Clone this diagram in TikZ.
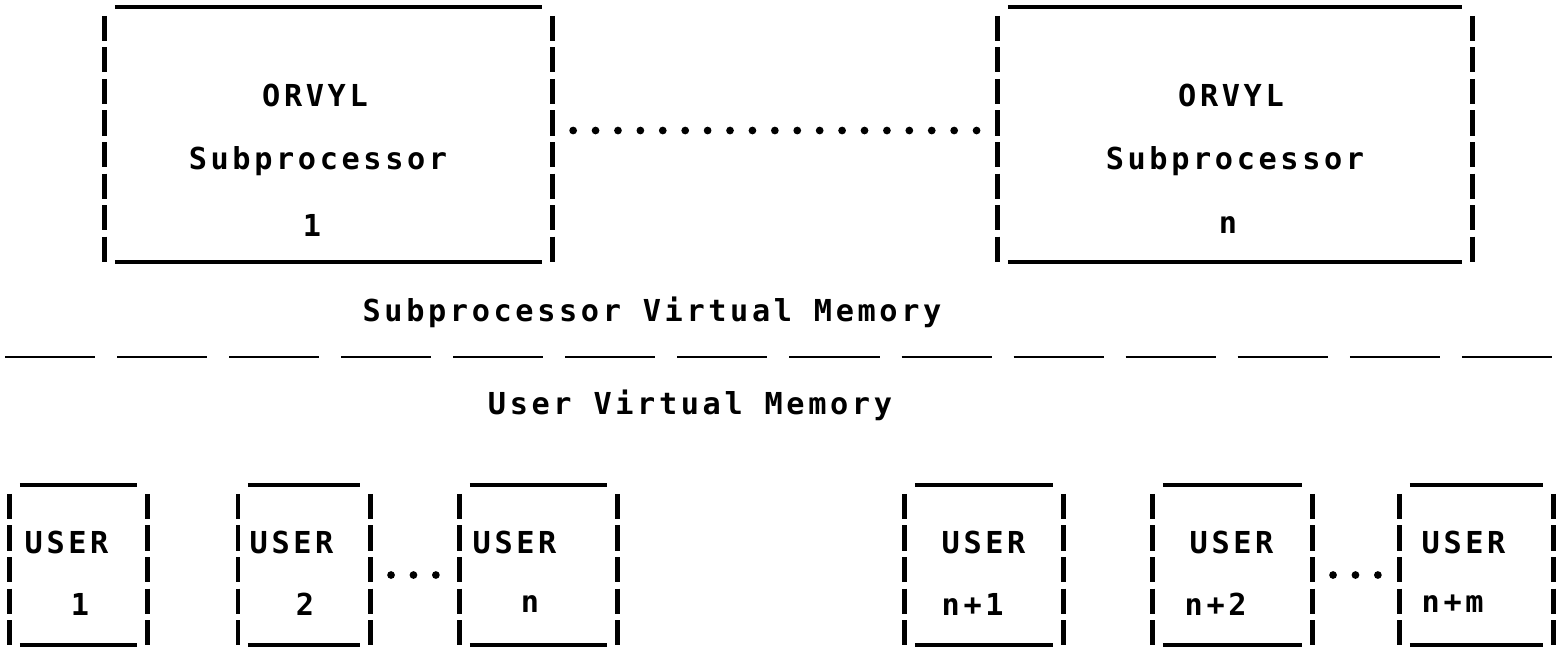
\documentclass[tikz,border=0pt]{standalone}
\usepackage{fontspec}
\usepackage{tikz}
\usetikzlibrary{positioning, calc}
\newfontfamily\lpfont[LetterSpace=12]{DejaVu Sans Mono}
\newcommand{\lpframe}[1]{%
  \draw[edge] ($(#1.north west)+(10,0)$) -- ($(#1.north east)+(-10,0)$);
  \draw[edge] ($(#1.south west)+(10,0)$) -- ($(#1.south east)+(-10,0)$);
  \draw[bar] ($(#1.north west)+(0,9)$) -- ($(#1.south west)+(0,2)$);
  \draw[bar] ($(#1.north east)+(0,9)$) -- ($(#1.south east)+(0,2)$);
}

\begin{document}
\begin{tikzpicture}[x=0.01cm, y=-0.01cm,
    frame/.style={inner sep=0pt, outer sep=0pt},
    edge/.style={line width=1pt},
    bar/.style={line width=1.4pt, dash pattern=on 2.5mm off 0.65mm},
    dotline/.style={line width=2.2pt, line cap=round, dash pattern=on 0pt off 2.24mm,
        shorten <=0.21cm, shorten >=0.21cm},
    divider/.style={line width=0.8pt, dash pattern=on 9mm off 2.2mm},
    txt/.style={font=\lpfont\bfseries\fontsize{8.6}{10}\selectfont, inner sep=0pt}]
    \useasboundingbox (0,0) rectangle (1556,647);

    % Subprocessor boxes
    \node[frame, minimum width=4.47cm, minimum height=2.55cm] (sp1) at (328.5,134.5) {};
    \node[frame, minimum width=4.74cm, minimum height=2.55cm] (sp2) at (1235,134.5) {};
    \lpframe{sp1}
    \lpframe{sp2}

    \node[txt] (sp1name) at (315,95) {ORVYL};
    \node[txt] (sp1kind) at (318,161) {Subprocessor};
    \node[txt] (sp1num) at (312,225) {1};
    \node[txt] (sp2name) at (1231,95) {ORVYL};
    \node[txt] (sp2kind) at (1235,161) {Subprocessor};
    \node[txt] (sp2num) at (1228,225) {n};

    \draw[dotline] ($(sp1.east)+(0,-4)$) -- ($(sp2.west)+(0,-4)$);

    % Memory split
    \node[txt] (spmem) at (652,312) {Subprocessor Virtual Memory};
    \draw[divider] (5,357) -- (1556,357);
    \node[txt] (usermem) at (690,405) {User Virtual Memory};

    % User boxes
    \node[frame, minimum width=1.37cm, minimum height=1.6cm] (u1) at (78.5,565) {};
    \node[frame, minimum width=1.32cm, minimum height=1.6cm] (u2) at (304,565) {};
    \node[frame, minimum width=1.57cm, minimum height=1.6cm] (un) at (538.5,565) {};
    \node[frame, minimum width=1.58cm, minimum height=1.6cm] (un1) at (984,565) {};
    \node[frame, minimum width=1.59cm, minimum height=1.6cm] (un2) at (1232.5,565) {};
    \node[frame, minimum width=1.53cm, minimum height=1.6cm] (unm) at (1476.5,565) {};
    \lpframe{u1}
    \lpframe{u2}
    \lpframe{un}
    \lpframe{un1}
    \lpframe{un2}
    \lpframe{unm}

    \node[txt, anchor=west] (u1name) at (24,542) {USER};
    \node[txt] (u1num) at (80,604) {1};
    \node[txt, anchor=west] (u2name) at (249,542) {USER};
    \node[txt] (u2num) at (305,604) {2};
    \node[txt, anchor=west] (unname) at (472,542) {USER};
    \node[txt] (unnum) at (530,604) {n};
    \node[txt, anchor=west] (un1name) at (941,542) {USER};
    \node[txt, anchor=west] (un1num) at (941,604) {n+1};
    \node[txt, anchor=west] (un2name) at (1189,542) {USER};
    \node[txt, anchor=west] (un2num) at (1184,604) {n+2};
    \node[txt, anchor=west] (unmname) at (1421,542) {USER};
    \node[txt, anchor=west] (unmnum) at (1421,604) {n+m};

    \draw[dotline] ($(u2.east)+(0,10)$) -- ($(un.west)+(0,10)$);
    \draw[dotline] ($(un2.east)+(0,10)$) -- ($(unm.west)+(0,10)$);
\end{tikzpicture}
\end{document}
